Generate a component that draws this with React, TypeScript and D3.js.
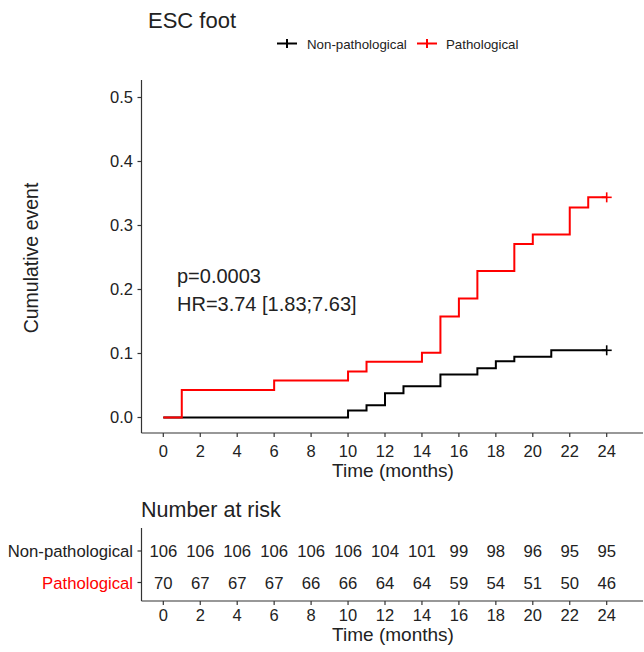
import * as d3 from 'd3'

// cumulative incidence — step points (time in months, value after the step)
const nonTimes = [0, 10, 11, 12, 13, 15, 17, 18, 19, 21, 24]
const nonValues = [0, 0.011, 0.019, 0.038, 0.049, 0.067, 0.077, 0.088, 0.095, 0.105, 0.105]
const pathTimes = [0, 1, 6, 10, 11, 14, 15, 16, 17, 19, 20, 22, 23, 24]
const pathValues = [0, 0.043, 0.058, 0.072, 0.087, 0.101, 0.158, 0.186, 0.229, 0.271, 0.286, 0.328, 0.344, 0.344]

// number at risk table
const riskTimes = [0, 2, 4, 6, 8, 10, 12, 14, 16, 18, 20, 22, 24]
const riskNon = [106, 106, 106, 106, 106, 106, 104, 101, 99, 98, 96, 95, 95]
const riskPath = [70, 67, 67, 67, 66, 66, 64, 64, 59, 54, 51, 50, 46]

const yTicks = [0, 0.1, 0.2, 0.3, 0.4, 0.5]
const groups = ['Non-pathological', 'Pathological']
const colors = ['#000000', '#ff0000']

const FONT = '"Liberation Sans", Arial, sans-serif'
const TXT = '#222'

export default function App() {
  const W = 644, H = 652
  const x = d3.scaleLinear().domain([0, 24]).range([163.3, 606.7])
  const y = d3.scaleLinear().domain([0, 0.5]).range([417.5, 97.5])
  const axisX = 141.5
  const axisY = 433
  const axisRight = 643

  const line = d3.line<[number, number]>()
    .x(d => x(d[0]))
    .y(d => y(d[1]))
    .curve(d3.curveStepAfter)

  const series = [
    { t: nonTimes, v: nonValues, color: colors[0] },
    { t: pathTimes, v: pathValues, color: colors[1] },
  ]

  // risk table rows
  const rowY = d3.scalePoint<string>().domain(groups).range([551, 582.5]).padding(0)
  const riskTop = 528, riskBottom = 601

  return (
    <svg width={W} height={H} style={{ position: 'absolute', left: 0, top: 0, background: '#fff' }}
      fontFamily={FONT}>
      {/* title */}
      <text x={148} y={28} fontSize={22} fill={TXT}>ESC foot</text>

      {/* legend */}
      {groups.map((g, i) => {
        const lx = i === 0 ? 277 : 417
        const tx = i === 0 ? 307 : 446
        return (
          <g key={g}>
            <line x1={lx} x2={lx + 20} y1={43.5} y2={43.5} stroke={colors[i]} strokeWidth={2} />
            <line x1={lx + 10} x2={lx + 10} y1={39} y2={48} stroke={colors[i]} strokeWidth={2} />
            <text x={tx} y={48.5} fontSize={13.3} fill={TXT}>{g}</text>
          </g>
        )
      })}

      {/* y axis */}
      <line x1={axisX} x2={axisX} y1={80} y2={axisY} stroke="#333" strokeWidth={1.2} />
      {yTicks.map(t => (
        <g key={t}>
          <line x1={axisX - 4} x2={axisX} y1={y(t)} y2={y(t)} stroke="#333" strokeWidth={1.2} />
          <text x={133} y={y(t)} dy="0.36em" textAnchor="end" fontSize={16.5} fill={TXT}>{t.toFixed(1)}</text>
        </g>
      ))}
      <text transform={`translate(38,258) rotate(-90)`} textAnchor="middle" fontSize={19.5} fill={TXT}>Cumulative event</text>

      {/* x axis */}
      <line x1={axisX} x2={axisRight} y1={axisY} y2={axisY} stroke="#333" strokeWidth={1.2} />
      {riskTimes.map(t => (
        <g key={t}>
          <line x1={x(t)} x2={x(t)} y1={axisY} y2={axisY + 4} stroke="#333" strokeWidth={1.2} />
          <text x={x(t)} y={457} textAnchor="middle" fontSize={16.5} fill={TXT}>{t}</text>
        </g>
      ))}
      <text x={393} y={477} textAnchor="middle" fontSize={19} fill={TXT}>Time (months)</text>

      {/* curves */}
      {series.map((s, i) => (
        <g key={i}>
          <path d={line(s.t.map((t, j) => [t, s.v[j]] as [number, number])) || ''}
            fill="none" stroke={s.color} strokeWidth={2} />
          <line x1={x(24) - 5} x2={x(24) + 5} y1={y(s.v[s.v.length - 1])} y2={y(s.v[s.v.length - 1])}
            stroke={s.color} strokeWidth={1.6} />
          <line x1={x(24)} x2={x(24)} y1={y(s.v[s.v.length - 1]) - 5} y2={y(s.v[s.v.length - 1]) + 5}
            stroke={s.color} strokeWidth={1.6} />
        </g>
      ))}

      {/* annotation */}
      <text x={177} y={283} fontSize={20} fill={TXT}>p=0.0003</text>
      <text x={177} y={311} fontSize={20} fill={TXT}>HR=3.74 [1.83;7.63]</text>

      {/* risk table */}
      <text x={141} y={517} fontSize={21.5} fill={TXT}>Number at risk</text>
      <line x1={axisX} x2={axisX} y1={riskTop} y2={riskBottom} stroke="#333" strokeWidth={1.2} />
      <line x1={axisX} x2={axisRight} y1={riskBottom} y2={riskBottom} stroke="#333" strokeWidth={1.2} />
      {groups.map((g, i) => (
        <g key={g}>
          <line x1={axisX - 4} x2={axisX} y1={rowY(g)!} y2={rowY(g)!} stroke="#333" strokeWidth={1.2} />
          <text x={133} y={rowY(g)!} dy="0.36em" textAnchor="end" fontSize={16.7}
            fill={i === 0 ? TXT : colors[1]}>{g}</text>
          {(i === 0 ? riskNon : riskPath).map((n, j) => (
            <text key={j} x={x(riskTimes[j])} y={rowY(g)!} dy="0.36em" textAnchor="middle"
              fontSize={16.7} fill={TXT}>{n}</text>
          ))}
        </g>
      ))}
      {riskTimes.map(t => (
        <g key={t}>
          <line x1={x(t)} x2={x(t)} y1={riskBottom} y2={riskBottom + 4} stroke="#333" strokeWidth={1.2} />
          <text x={x(t)} y={621} textAnchor="middle" fontSize={16.5} fill={TXT}>{t}</text>
        </g>
      ))}
      <text x={393} y={641} textAnchor="middle" fontSize={19} fill={TXT}>Time (months)</text>
    </svg>
  )
}
